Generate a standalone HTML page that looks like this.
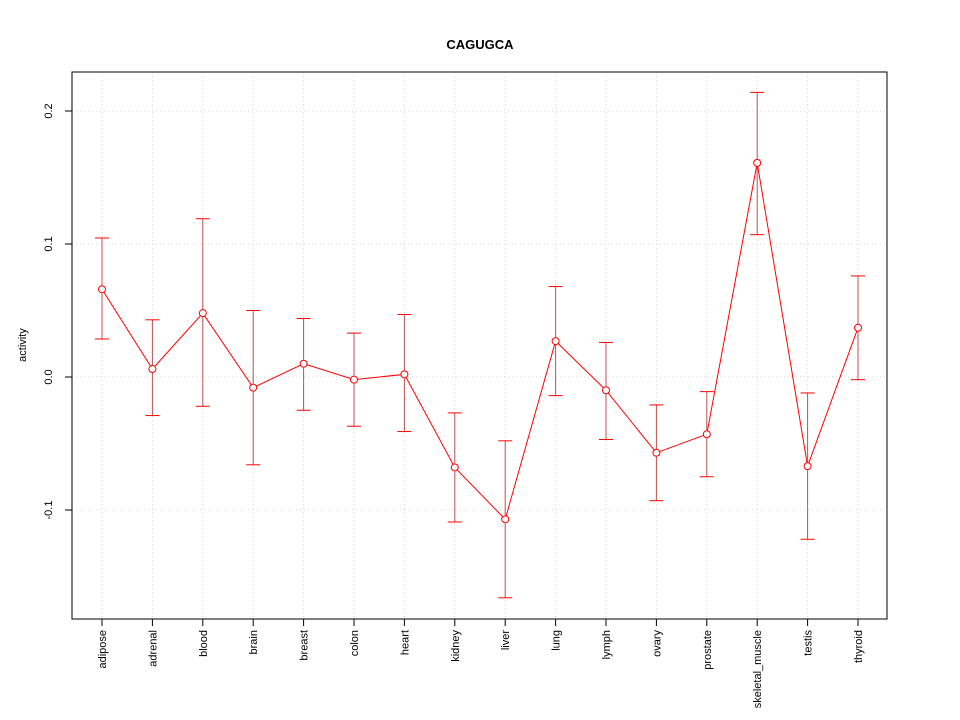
<!DOCTYPE html>
<html><head><meta charset="utf-8"><style>
body{margin:0;background:#fff}
svg{display:block;font-family:"Liberation Sans",sans-serif}
</style></head><body>
<svg id="chart" width="960" height="720" xmlns="http://www.w3.org/2000/svg">
<text x="480" y="49" text-anchor="middle" font-weight="bold" font-size="13">CAGUGCA</text>
<text transform="translate(26,345) rotate(-90)" text-anchor="middle" font-size="11">activity</text>
<g id="grid"></g><g id="marks"></g><g id="axes"></g>
<rect x="72" y="72" width="815" height="547" fill="none" stroke="#000"/>
</svg>
<script>
const categories=["adipose","adrenal","blood","brain","breast","colon","heart","kidney","liver","lung","lymph","ovary","prostate","skeletal_muscle","testis","thyroid"];
const values=[0.066,0.006,0.048,-0.008,0.010,-0.002,0.002,-0.068,-0.107,0.027,-0.010,-0.057,-0.043,0.161,-0.067,0.037];
const upper=[0.1045,0.043,0.119,0.050,0.044,0.033,0.047,-0.027,-0.048,0.068,0.026,-0.021,-0.011,0.214,-0.012,0.076];
const lower=[0.0286,-0.029,-0.022,-0.066,-0.025,-0.037,-0.041,-0.109,-0.166,-0.014,-0.047,-0.093,-0.075,0.107,-0.122,-0.002];
const yTicks=[-0.1,0.0,0.1,0.2];
const yTickLabels=["-0.1","0.0","0.1","0.2"];
const NS="http://www.w3.org/2000/svg";
const x=i=>102+i*(858-102)/(categories.length-1);
const y=v=>377-v*1330;
function mk(p,t,a){const e=document.createElementNS(NS,t);for(const k in a)e.setAttribute(k,a[k]);p.appendChild(e);return e;}
const grid=document.getElementById('grid'),marks=document.getElementById('marks'),axes=document.getElementById('axes');
yTicks.forEach((v,i)=>{
  const g=mk(grid,'line',{x1:72,x2:887,y1:y(v),y2:y(v),stroke:'#d3d3d3','stroke-dasharray':'1,3'});
  
  
  const t=mk(axes,'line',{x1:65,x2:72,y1:y(v),y2:y(v),stroke:'#000'});
  
  
  const l=mk(axes,'text',{transform:`translate(52,${y(v)}) rotate(-90)`,'text-anchor':'middle','font-size':'11'});
  l.textContent=yTickLabels[i];
  
  
});
categories.forEach((c,i)=>{
  const g=mk(grid,'line',{x1:x(i),x2:x(i),y1:72,y2:619,stroke:'#d3d3d3','stroke-dasharray':'1,3'});
  
  
  const t=mk(axes,'line',{x1:x(i),x2:x(i),y1:619,y2:626,stroke:'#000'});
  
  
  const l=mk(axes,'text',{transform:`translate(${x(i)+4},630) rotate(-90)`,'text-anchor':'end','font-size':'11'});
  l.textContent=c;
  
  
  const e=mk(marks,'g',{stroke:'#ff0000',fill:'none'});
  
  
  mk(e,'line',{x1:x(i),x2:x(i),y1:y(upper[i]),y2:y(values[i])-4,stroke:'#c05050'});
  mk(e,'line',{x1:x(i),x2:x(i),y1:y(values[i])+4,y2:y(lower[i]),stroke:'#c05050'});
  mk(e,'line',{x1:x(i)-7,x2:x(i)+7,y1:y(upper[i]),y2:y(upper[i])});
  mk(e,'line',{x1:x(i)-7,x2:x(i)+7,y1:y(lower[i]),y2:y(lower[i])});
});
const line=mk(marks,'polyline',{points:values.map((v,i)=>x(i)+','+y(v)).join(' '),fill:'none',stroke:'#ff0000'});


values.forEach((v,i)=>{
  const p=mk(marks,'circle',{cx:x(i),cy:y(v),r:3.5,fill:'#fff',stroke:'#ff0000'});
  
  
});
</script>
</body></html>
